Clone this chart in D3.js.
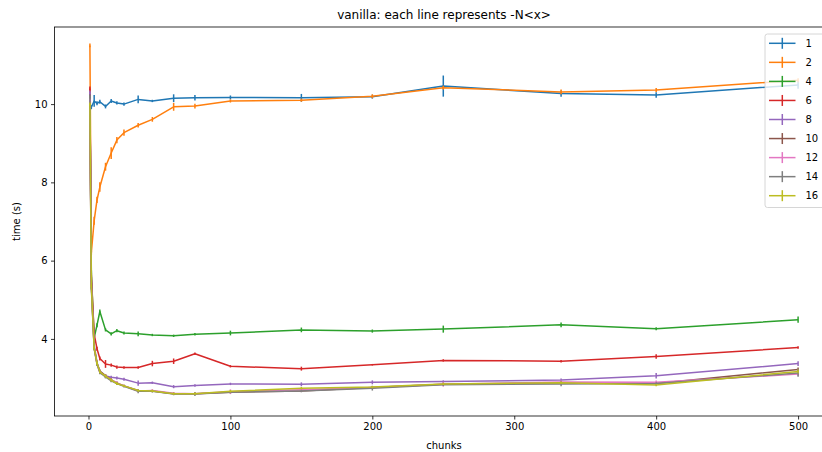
<!DOCTYPE html>
<html>
<head>
<meta charset="utf-8">
<script src="https://cdn.jsdelivr.net/npm/d3@7"></script>
<style>
  body { margin: 0; background: #fff; }
  svg { font-family: "DejaVu Sans", sans-serif; }
</style>
</head>
<body>
<svg id="chart" width="822" height="452"></svg>
<script>
// chunk counts on the x axis
var chunks = [1, 2, 4, 6, 8, 12, 16, 20, 25, 35, 45, 60, 75, 100, 150, 200, 250, 333, 400, 500];

// one series per -N value, mean time (s)
var seriesNames = ['1', '2', '4', '6', '8', '10', '12', '14', '16'];
var n1  = [9.95, 9.92, 10.08, 10.02, 10.06, 9.94, 10.08, 10.03, 10.0, 10.12, 10.08, 10.15, 10.16, 10.17, 10.16, 10.19, 10.46, 10.27, 10.23, 10.49];
var n2  = [11.5, 6.2, 7.02, 7.55, 7.88, 8.4, 8.75, 9.08, 9.27, 9.46, 9.61, 9.93, 9.95, 10.08, 10.1, 10.2, 10.42, 10.31, 10.36, 10.61];
var n4  = [10.2, 5.7, 4.03, 4.35, 4.7, 4.23, 4.13, 4.21, 4.15, 4.13, 4.1, 4.08, 4.12, 4.15, 4.23, 4.2, 4.25, 4.36, 4.26, 4.49];
var n6  = [10.4, 5.6, 4.12, 3.75, 3.5, 3.36, 3.33, 3.28, 3.27, 3.27, 3.37, 3.43, 3.62, 3.3, 3.24, 3.34, 3.45, 3.43, 3.55, 3.78];
var n8  = [10.3, 5.5, 3.85, 3.4, 3.17, 3.05, 3.02, 3.0, 2.97, 2.87, 2.88, 2.78, 2.81, 2.85, 2.84, 2.89, 2.91, 2.95, 3.06, 3.37];
var n10 = [10.2, 5.4, 3.78, 3.38, 3.18, 3.06, 2.96, 2.87, 2.8, 2.68, 2.67, 2.6, 2.6, 2.64, 2.67, 2.76, 2.84, 2.88, 2.86, 3.22];
var n12 = [10.1, 5.4, 3.76, 3.36, 3.15, 3.05, 2.95, 2.88, 2.8, 2.67, 2.68, 2.61, 2.6, 2.65, 2.7, 2.76, 2.84, 2.9, 2.89, 3.1];
var n14 = [10.2, 5.3, 3.75, 3.35, 3.14, 3.03, 2.93, 2.86, 2.79, 2.66, 2.66, 2.59, 2.59, 2.64, 2.67, 2.74, 2.83, 2.85, 2.86, 3.13];
var n16 = [10.0, 5.35, 3.77, 3.38, 3.16, 3.05, 2.95, 2.86, 2.8, 2.68, 2.67, 2.6, 2.6, 2.66, 2.74, 2.77, 2.85, 2.88, 2.82, 3.17];

// error bar half-heights
var e1  = [0.05, 0.05, 0.15, 0.05, 0.05, 0.05, 0.05, 0.04, 0.04, 0.1, 0.03, 0.1, 0.07, 0.05, 0.1, 0.05, 0.27, 0.08, 0.07, 0.1];
var e2  = [0.05, 0.05, 0.1, 0.08, 0.12, 0.1, 0.15, 0.08, 0.08, 0.06, 0.06, 0.1, 0.06, 0.04, 0.04, 0.05, 0.05, 0.06, 0.05, 0.05];
var e4  = [0.05, 0.05, 0.05, 0.05, 0.05, 0.04, 0.04, 0.04, 0.04, 0.06, 0.03, 0.03, 0.03, 0.06, 0.06, 0.04, 0.09, 0.06, 0.04, 0.08];
var e6  = [0.05, 0.05, 0.05, 0.05, 0.05, 0.1, 0.04, 0.04, 0.03, 0.03, 0.07, 0.07, 0.03, 0.03, 0.05, 0.02, 0.03, 0.03, 0.06, 0.03];
var e8  = [0.05, 0.05, 0.05, 0.05, 0.04, 0.04, 0.04, 0.04, 0.04, 0.07, 0.03, 0.04, 0.03, 0.03, 0.05, 0.05, 0.03, 0.04, 0.07, 0.06];
var e10 = [0.04, 0.04, 0.04, 0.04, 0.04, 0.04, 0.04, 0.04, 0.03, 0.03, 0.03, 0.03, 0.03, 0.03, 0.03, 0.03, 0.03, 0.03, 0.03, 0.05];
var e12 = [0.04, 0.04, 0.04, 0.04, 0.04, 0.04, 0.04, 0.04, 0.03, 0.03, 0.03, 0.03, 0.03, 0.06, 0.03, 0.03, 0.06, 0.04, 0.05, 0.04];
var e14 = [0.04, 0.04, 0.04, 0.04, 0.04, 0.04, 0.04, 0.04, 0.03, 0.05, 0.03, 0.03, 0.05, 0.03, 0.03, 0.06, 0.03, 0.06, 0.03, 0.1];
var e16 = [0.04, 0.04, 0.04, 0.04, 0.04, 0.04, 0.04, 0.04, 0.03, 0.03, 0.03, 0.03, 0.03, 0.03, 0.03, 0.03, 0.03, 0.03, 0.03, 0.05];

var xTicks = [0, 100, 200, 300, 400, 500];
var yTicks = [4, 6, 8, 10];
var xLimits = [-23.95, 524.95];
var yLimits = [2.03, 11.97];

var colors = ['#1f77b4', '#ff7f0e', '#2ca02c', '#d62728', '#9467bd', '#8c564b', '#e377c2', '#7f7f7f', '#bcbd22'];
var means = [n1, n2, n4, n6, n8, n10, n12, n14, n16];
var errs = [e1, e2, e4, e6, e8, e10, e12, e14, e16];

var svg = d3.select('#chart'),
    plotLeft = 54.5, plotRight = 833.5, plotTop = 27, plotBottom = 416;

var x = d3.scaleLinear().domain(xLimits).range([plotLeft, plotRight]);
var y = d3.scaleLinear().domain(yLimits).range([plotBottom, plotTop]);

// axes
svg.append('g')
    .attr('transform', 'translate(0,' + plotBottom + ')')
    .call(d3.axisBottom(x).tickValues(xTicks).tickSize(3.5).tickPadding(3.5).tickFormat(d3.format('d')))
    .call(function (g) { g.select('.domain').remove(); });
svg.append('g')
    .attr('transform', 'translate(' + plotLeft + ',0)')
    .call(d3.axisLeft(y).tickValues(yTicks).tickSize(3.5).tickPadding(3.5).tickFormat(d3.format('d')))
    .call(function (g) { g.select('.domain').remove(); });
svg.selectAll('.tick text').attr('font-size', 10).attr('fill', '#000')
    .attr('font-family', '"DejaVu Sans", sans-serif');
svg.selectAll('.tick line').attr('stroke', '#000').attr('stroke-width', 0.8);

// lines and error bars
var line = d3.line()
    .x(function (d) { return x(d.c); })
    .y(function (d) { return y(d.v); });

var plot = svg.append('g');
means.forEach(function (vals, i) {
    var pts = chunks.map(function (c, j) { return { c: c, v: vals[j], e: errs[i][j] }; });
    var g = plot.append('g');
    g.selectAll('line.err')
        .data(pts)
        .enter().append('line')
        .attr('class', 'err')
        .attr('x1', function (d) { return x(d.c); })
        .attr('x2', function (d) { return x(d.c); })
        .attr('y1', function (d) { return y(d.v - d.e); })
        .attr('y2', function (d) { return y(d.v + d.e); })
        .attr('stroke', colors[i])
        .attr('stroke-width', 1.5);
    g.append('path')
        .datum(pts)
        .attr('d', line)
        .attr('fill', 'none')
        .attr('stroke', colors[i])
        .attr('stroke-width', 1.5)
        .attr('stroke-linejoin', 'round');
});

// frame
svg.append('rect')
    .attr('x', plotLeft).attr('y', plotTop)
    .attr('width', plotRight - plotLeft).attr('height', plotBottom - plotTop)
    .attr('fill', 'none').attr('stroke', '#000').attr('stroke-width', 0.8);

// legend
var lg = svg.append('g').attr('transform', 'translate(765,34)');
lg.append('rect')
    .attr('width', 63).attr('height', 173.5).attr('rx', 2.5)
    .attr('fill', '#fff').attr('fill-opacity', 0.8)
    .attr('stroke', '#ccc').attr('stroke-width', 0.8);
var rows = lg.selectAll('g.row')
    .data(seriesNames)
    .enter().append('g')
    .attr('transform', function (d, i) { return 'translate(0,' + (9.3 + i * 19.05) + ')'; });
rows.append('line')
    .attr('x1', 4).attr('x2', 30.5).attr('y1', 0).attr('y2', 0)
    .attr('stroke', function (d, i) { return colors[i]; }).attr('stroke-width', 1.5);
rows.append('line')
    .attr('x1', 17.3).attr('x2', 17.3).attr('y1', -5.5).attr('y2', 5.5)
    .attr('stroke', function (d, i) { return colors[i]; }).attr('stroke-width', 1.5);
rows.append('text')
    .attr('x', 40.5).attr('y', 3.6)
    .attr('font-size', 10)
    .text(function (d) { return d; });

// titles
svg.append('text')
    .attr('x', (plotLeft + plotRight) / 2).attr('y', 19)
    .attr('text-anchor', 'middle').attr('font-size', 12)
    .text('vanilla: each line represents -N<x>');
svg.append('text')
    .attr('x', (plotLeft + plotRight) / 2).attr('y', 449)
    .attr('text-anchor', 'middle').attr('font-size', 10)
    .text('chunks');
svg.append('text')
    .attr('transform', 'translate(20,' + ((plotTop + plotBottom) / 2) + ') rotate(-90)')
    .attr('text-anchor', 'middle').attr('font-size', 10)
    .text('time (s)');
</script>
</body>
</html>
